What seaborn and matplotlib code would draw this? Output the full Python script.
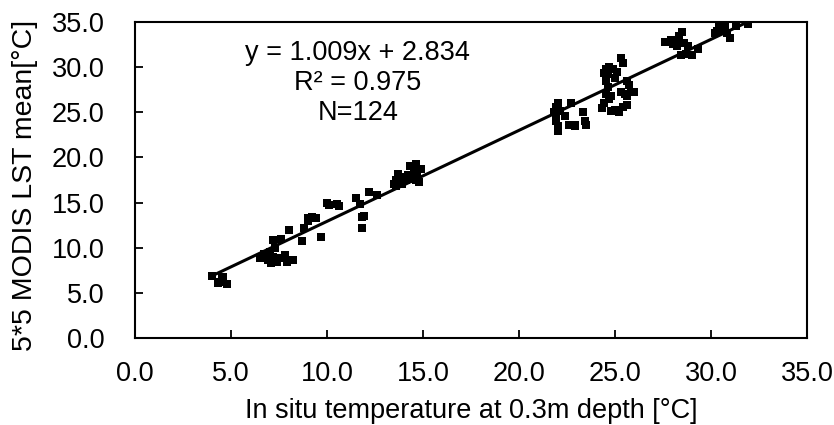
import matplotlib
matplotlib.use("Agg")
import matplotlib.pyplot as plt
import seaborn as sns
import numpy as np
import pandas as pd

in_situ = [
    4.0, 4.3, 4.5, 4.6, 4.8, 4.4,
    6.5, 6.7, 6.9, 7.0, 7.1, 7.2, 7.3, 7.4, 7.5, 7.2, 7.6, 7.9, 8.0, 7.8, 7.0,
    8.7, 8.8, 9.0, 9.0, 9.2, 9.4, 9.7, 10.0, 10.1, 10.5, 10.6,
    11.5, 11.7, 11.8, 11.8, 11.9, 12.2, 12.6,
    13.5, 13.6, 13.7, 13.8, 14.0, 14.1, 14.2, 14.3, 14.5, 14.6, 14.7, 14.8, 14.9, 14.4, 13.9, 14.6,
    21.8, 21.9, 21.9, 22.0, 22.0, 22.0, 22.1, 22.4, 22.6, 22.7, 22.9, 23.3, 23.4, 23.5, 22.9,
    24.3, 24.4, 24.5, 24.5, 24.6, 24.6, 24.7, 24.8, 24.9, 25.0, 25.0, 24.8, 24.5, 24.7, 25.1, 24.4,
    25.2, 25.3, 25.3, 25.4, 25.5, 25.6, 25.6, 25.7, 25.8, 26.0, 25.4, 25.6,
    27.6, 27.9, 28.0, 28.1, 28.2, 28.3, 28.4, 28.6, 28.7, 28.8, 29.0, 28.5, 29.3,
    30.2, 30.4, 30.6, 30.8, 31.0, 30.3, 31.3, 31.9, 30.7,
    8.2, 13.6, 21.9, 28.2,
]
modis_lst = [
    6.9, 6.1, 6.6, 6.8, 6.0, 6.2,
    8.8, 9.3, 8.6, 9.5, 8.3, 9.0, 10.0, 8.4, 8.8, 10.8, 11.0, 8.4, 12.0, 9.2, 9.0,
    10.7, 12.2, 12.9, 13.3, 13.4, 13.3, 11.2, 15.0, 14.7, 14.8, 14.6,
    15.5, 14.8, 13.4, 12.2, 13.5, 16.2, 15.8,
    17.0, 17.5, 18.2, 17.2, 17.8, 17.5, 18.0, 19.0, 18.5, 19.3, 18.0, 17.3, 18.7, 17.6, 17.0, 17.5,
    25.0, 24.5, 25.6, 23.5, 22.9, 26.0, 25.2, 24.6, 23.6, 26.0, 23.5, 25.0, 24.0, 23.6, 23.6,
    25.5, 26.0, 29.8, 28.5, 27.8, 29.2, 30.0, 26.8, 29.8, 25.3, 28.8, 25.1, 27.0, 26.5, 29.5, 29.4,
    25.0, 27.2, 31.0, 30.5, 27.0, 26.8, 25.8, 28.0, 27.2, 27.3, 25.6, 28.5,
    32.8, 33.0, 32.6, 33.0, 32.8, 33.5, 31.3, 32.7, 31.5, 32.3, 31.4, 33.9, 32.0,
    33.8, 34.5, 34.2, 33.8, 33.2, 34.0, 34.6, 34.8, 34.6,
    8.6, 16.8, 24.0, 32.4,
]
slope = 1.009
intercept = 2.834
ticks = [0, 5, 10, 15, 20, 25, 30, 35]

sns.set_style("white")
plt.rcParams['font.family'] = ['Liberation Sans', 'DejaVu Sans']
plt.rcParams['text.color'] = 'black'
plt.rcParams['axes.labelcolor'] = 'black'
plt.rcParams['xtick.color'] = 'black'
plt.rcParams['ytick.color'] = 'black'
plt.rcParams['xtick.bottom'] = True
plt.rcParams['ytick.left'] = True

FS = 19.5

df = pd.DataFrame({"x": in_situ, "y": modis_lst})
xs = np.array([min(in_situ), max(in_situ)])
line_df = pd.DataFrame({"x": xs, "y": slope * xs + intercept})

fig = plt.figure(figsize=(8.34, 4.25), dpi=100)
ax = fig.add_axes([0.162, 0.205, 0.806, 0.743])

sns.scatterplot(data=df, x="x", y="y", marker="s", s=32, color="black",
                edgecolor="black", linewidth=0, ax=ax, zorder=3)
sns.lineplot(data=line_df, x="x", y="y", color="black", linewidth=2.2, ax=ax, zorder=4)

ax.set_xlim(0, 35)
ax.set_ylim(0, 35)
ax.set_xticks(ticks)
ax.set_yticks(ticks)
ax.set_xticklabels([f"{t:.1f}" for t in ticks], fontsize=FS)
ax.set_yticklabels([f"{t:.1f}" for t in ticks], fontsize=FS)
ax.tick_params(axis="both", direction="in", length=6, width=1.3, color="black",
               bottom=True, left=True)
ax.tick_params(axis="x", pad=17)
ax.tick_params(axis="y", pad=22)
for sp in ax.spines.values():
    sp.set_visible(True)
    sp.set_color("black")
    sp.set_linewidth(1.5)

ax.set_xlabel("In situ temperature at 0.3m depth [°C]", fontsize=FS, va="center")
ax.xaxis.set_label_coords(0.5, -0.23)
ax.set_ylabel("5*5 MODIS LST mean[°C]", fontsize=20.5, va="center")
ax.yaxis.set_label_coords(-0.164, 0.483)

ax.text(11.6, 28.2, "y = 1.009x + 2.834\nR² = 0.975\nN=124", ha="center", va="center",
        fontsize=FS, linespacing=1.2)

fig.savefig("out.png", dpi=100)
